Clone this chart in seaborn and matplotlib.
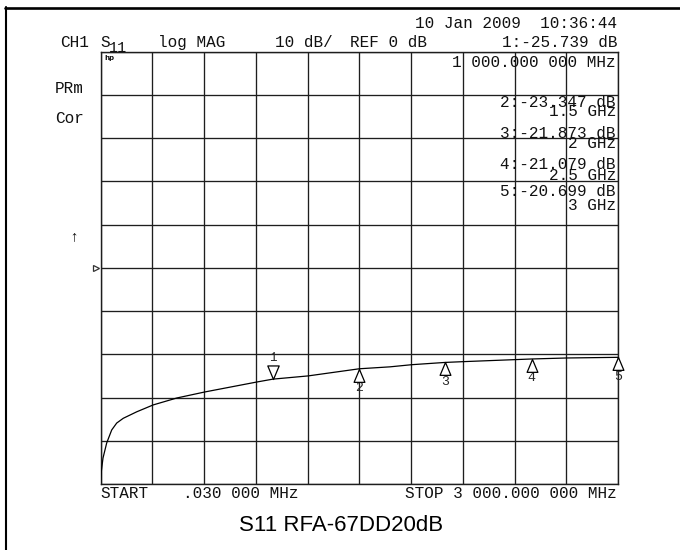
import numpy as np
import pandas as pd
import matplotlib
matplotlib.use("Agg")
import matplotlib.pyplot as plt
import matplotlib.transforms as mtransforms
from matplotlib.path import Path
from matplotlib.lines import Line2D
import seaborn as sns

# ---------------- data ----------------
freq_mhz = [0.03, 5, 14.5, 36, 65, 94, 132, 210, 306, 443, 606, 907, 1000,
            1203, 1500, 1678, 1805, 2000, 2101, 2500, 2703, 3000]
s11_db = [-50.0, -47.0, -44.0, -40.5, -37.5, -35.9, -34.8, -33.3, -31.7, -30.1,
          -28.7, -26.4, -25.739, -25.0, -23.347, -22.9, -22.4, -21.873, -21.7,
          -21.079, -20.85, -20.699]

marker_ids = ["1", "2", "3", "4", "5"]
marker_freq_mhz = [1000, 1500, 2000, 2500, 3000]
marker_db = [-25.739, -23.347, -21.873, -21.079, -20.699]
marker_db_text = ["1:-25.739 dB", "2:-23.347 dB", "3:-21.873 dB", "4:-21.079 dB", "5:-20.699 dB"]
marker_freq_text = ["1 000.000 000 MHz", "1.5 GHz", "2 GHz", "2.5 GHz", "3 GHz"]

start_mhz, stop_mhz = 0.03, 3000
ref_db, scale_db, n_div = 0, 10, 10

header_left = ["CH1", "S", "log MAG", "10 dB/", "REF 0 dB"]
date_text = "10 Jan 2009  10:36:44"
start_text = ["START", ".030 000 MHz"]
stop_text = "STOP 3 000.000 000 MHz"
caption = "S11 RFA-67DD20dB"

# ---------------- style ----------------
sns.set_theme(style="white")
plt.rcParams["font.family"] = ["Liberation Mono", "DejaVu Sans Mono"]

W, H = 680, 550
fig = plt.figure(figsize=(W / 100, H / 100), dpi=100)
fig.patch.set_facecolor("white")

L, R, T, B = 100.5, 618, 51.7, 484
ax = fig.add_axes([L / W, 1 - B / H, (R - L) / W, (B - T) / H])
ax.set_facecolor("white")

df = pd.DataFrame({"f": freq_mhz, "db": s11_db})
sns.lineplot(data=df, x="f", y="db", color="black", lw=0.9, ax=ax, sort=False, zorder=3)

ax.set_xlim(start_mhz, stop_mhz)
ax.set_ylim(ref_db - 5 * scale_db, ref_db + 5 * scale_db)
ax.set_xticks(np.linspace(start_mhz, stop_mhz, n_div + 1))
ax.set_yticks(np.linspace(ref_db - 5 * scale_db, ref_db + 5 * scale_db, n_div + 1))
ax.grid(True, color="#1e1e1e", lw=0.95)
ax.tick_params(length=0, labelbottom=False, labelleft=False)
ax.set_xlabel("")
ax.set_ylabel("")
for s in ax.spines.values():
    s.set_color("#1e1e1e")
    s.set_linewidth(1.0)

# ---------------- markers ----------------
down_tri = Path([(0, 0), (-0.42, 1), (0.42, 1), (0, 0)],
                [Path.MOVETO, Path.LINETO, Path.LINETO, Path.CLOSEPOLY])
up_tri = Path([(0, 0), (-0.42, -1), (0.42, -1), (0, 0)],
              [Path.MOVETO, Path.LINETO, Path.LINETO, Path.CLOSEPOLY])
mdf = pd.DataFrame({"f": marker_freq_mhz, "db": marker_db, "id": marker_ids})
sns.scatterplot(data=mdf.iloc[:1], x="f", y="db", marker=down_tri, s=19.5 ** 2,
                facecolor="white", edgecolor="black", linewidth=0.9, ax=ax,
                zorder=4, clip_on=False, legend=False)
sns.scatterplot(data=mdf.iloc[1:], x="f", y="db", marker=up_tri, s=18.5 ** 2,
                facecolor="white", edgecolor="black", linewidth=0.9, ax=ax,
                zorder=4, clip_on=False, legend=False)
ax.set_xlabel("")
ax.set_ylabel("")
px = 0.72
for i, (f, d, mid) in enumerate(zip(marker_freq_mhz, marker_db, marker_ids)):
    if i == 0:
        ax.annotate(mid, xy=(f, d), xytext=(0, 15.5 * px), textcoords="offset points",
                    ha="center", va="bottom", fontsize=9, annotation_clip=False)
    else:
        ax.annotate(mid, xy=(f, d), xytext=(0, -13.5 * px), textcoords="offset points",
                    ha="center", va="top", fontsize=9.5, annotation_clip=False)

# reference-position marker on the left edge
trans = mtransforms.blended_transform_factory(ax.transAxes, ax.transData)
ax.plot([-0.009], [ref_db], marker=">", ms=4.5, mfc="white", mec="#333333",
        mew=0.9, transform=trans, clip_on=False)

# ---------------- texts ----------------
def ftext(x, y, s, ha="left", size=11.5, **kw):
    fig.text(x / W, 1 - y / H, s, ha=ha, va="baseline", fontsize=size, color="#111111", **kw)

ftext(617, 28, date_text, ha="right")
ftext(60, 47, header_left[0])
ftext(100, 47, header_left[1])
ftext(109, 51.5, "11", size=11)
ftext(158, 47, header_left[2])
ftext(275, 47, header_left[3])
ftext(350, 47, header_left[4])
ftext(617, 47, marker_db_text[0], ha="right")

ftext(616, 67, marker_freq_text[0], ha="right")
db_y = [107, 137.5, 169, 196]
fq_y = [116.5, 148, 180, 210]
for k in range(1, 5):
    ftext(616, db_y[k - 1], marker_db_text[k], ha="right")
    ftext(616, fq_y[k - 1], marker_freq_text[k], ha="right")

ftext(55, 93, "PRm")
ftext(55, 123, "Cor")
ftext(74, 240, "\u2191", ha="center", size=11)
ftext(104, 60, "hp", size=5, family="DejaVu Sans", weight="bold")

ftext(100, 498.5, start_text[0])
ftext(183, 498.5, start_text[1])
ftext(617, 498.5, stop_text, ha="right")

fig.text(341 / W, 1 - 531 / H, caption, ha="center", va="baseline", fontsize=16,
         family="Liberation Sans", color="black")

# page frame (top and left edges)
fig.add_artist(Line2D([5 / W, 1], [1 - 7.5 / H] * 2, color="black", lw=1.9))
fig.add_artist(Line2D([6 / W] * 2, [1 - 6.5 / H, 0], color="black", lw=1.5))

fig.savefig("out.png", dpi=100, facecolor="white")
